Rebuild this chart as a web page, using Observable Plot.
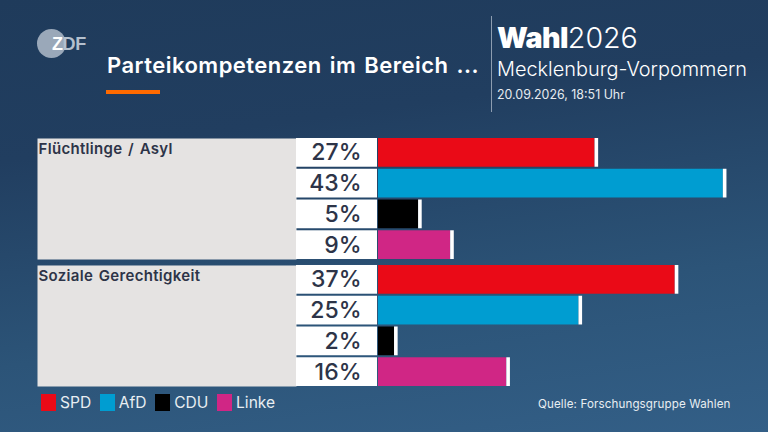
<!DOCTYPE html>
<html lang="de">
<head>
<meta charset="utf-8">
<script src="https://cdn.jsdelivr.net/npm/d3@7"></script>
<script src="https://cdn.jsdelivr.net/npm/@observablehq/plot@0.6"></script>
<style>
  html, body { margin: 0; padding: 0; }
  body {
    width: 768px; height: 432px; overflow: hidden; position: relative;
    background: linear-gradient(172deg, #1f3b5b 0%, #213e60 30%, #2c5478 68%, #335f87 100%);
    font-family: Inter, "Noto Sans", sans-serif; color: #fff;
  }
  header { height: 130px; position: relative; }
  header > * { position: absolute; white-space: nowrap; margin: 0; }
  #disc { left: 37px; top: 29px; width: 29px; height: 29px; border-radius: 50%; background: #9aa8b9; }
  #logo { left: 52px; top: 34px; font: 700 18px/20px "Liberation Sans", sans-serif; letter-spacing: -.4px; color: #b4c0ce; }
  #logo b { color: #fff; }
  h1 { left: 107px; top: 51px; font-size: 22px; line-height: 28px; font-weight: 600; word-spacing: 2px; letter-spacing: .48px; }
  #rule { left: 106px; top: 90px; width: 54px; height: 4px; background: #ff6a00; }
  #sep { left: 491px; top: 16px; width: 1px; height: 96px; background: #8d9db0; }
  #wahl { left: 497px; top: 20px; font-size: 28.6px; line-height: 36px; font-weight: 300; }
  #wahl b { font-weight: 900; letter-spacing: -.6px; }
  #land { left: 497px; top: 56px; font-size: 19.9px; line-height: 26px; font-weight: 300; }
  #date { left: 497px; top: 87px; font-size: 12.4px; line-height: 16px; font-weight: 400; color: #e6ebf0; }
  #src { position: absolute; left: 538px; top: 396px; font-size: 11.6px; line-height: 16px; color: #e8eef2; white-space: nowrap; letter-spacing: .12px; }
  #leg { position: absolute; left: 41px; top: 386px; }
  #leg, #leg * { font-family: Inter, "Noto Sans", sans-serif; }
  #leg span { margin-right: 8.6px !important; }
  #leg span > svg { margin-right: 4px !important; }
  svg { display: block; background: none !important; }
  #chart svg rect { stroke: none !important; }
</style>
</head>
<body>
<header>
  <div id="disc"></div>
  <div id="logo"><b>Z</b>DF</div>
  <h1>Parteikompetenzen im Bereich ...</h1>
  <div id="rule"></div>
  <div id="sep"></div>
  <div id="wahl"><b>Wahl</b>2026</div>
  <div id="land">Mecklenburg-Vorpommern</div>
  <div id="date">20.09.2026, 18:51 Uhr</div>
</header>
<div id="chart"></div>
<div id="leg"></div>
<div id="src">Quelle: Forschungsgruppe Wahlen</div>
<script>
const categories = ["Flüchtlinge / Asyl", "Soziale Gerechtigkeit"];
const parties = ["SPD", "AfD", "CDU", "Linke"];
const partyColors = ["#ea0a17", "#009dd1", "#000000", "#d02685"];
const asylValues = [27, 43, 5, 9];
const sozialValues = [37, 25, 2, 16];

const rows = [asylValues, sozialValues].flatMap((vals, i) =>
  vals.map((value, j) => ({category: categories[i], party: parties[j], value}))
);
const heads = categories.map((category) => ({category}));
const ink = "#2d3448";

const colorScale = {domain: parties, range: partyColors};
const plot = Plot.plot({
  width: 768, height: 262,
  marginLeft: 378, marginRight: 0, marginTop: 8, marginBottom: 6,
  style: {background: "none"},
  x: {domain: [0, 48.63], axis: null},
  y: {domain: parties, paddingInner: 0.066, paddingOuter: 0, round: false, axis: null},
  fy: {domain: categories, paddingInner: 0.047, paddingOuter: 0, round: false, axis: null},
  color: colorScale,
  marks: [
    Plot.frame({fill: "#e5e3e2", stroke: "#e5e3e2", strokeWidth: 0, strokeOpacity: 0, insetLeft: -341, insetRight: 472}),
    Plot.barX(rows, {x1: 0, x2: 0, y: "party", fy: "category", fill: "#fff", insetLeft: -82, insetRight: 1}),
    Plot.barX(rows, {x: "value", y: "party", fy: "category", fill: "party"}),
    Plot.barX(rows, {x1: "value", x2: "value", y: "party", fy: "category", fill: "#fff", insetRight: -3.6}),
    Plot.text(rows, {x: 0, y: "party", fy: "category", text: (d) => d.value + "%", textAnchor: "end", dx: -17, dy: 0, fontSize: 23, fontWeight: 500, fill: ink, fontFamily: "Inter"}),
    Plot.text(heads, {fy: "category", text: "category", frameAnchor: "top-left", dx: -340, dy: 5, fontSize: 15, fontWeight: 600, fill: ink, fontFamily: "Inter"})
  ]
});
d3.select(plot).selectAll("text")
  .filter(function () { return categories.includes(this.textContent); })
  .style("letter-spacing", "0.32px")
  .style("word-spacing", "1.5px");
document.getElementById("chart").append(plot);

const legend = Plot.legend({
  color: colorScale,
  legend: "swatches",
  swatchSize: 15, swatchWidth: 15, swatchHeight: 17
});
legend.style.fontSize = "15.6px";
legend.style.color = "#e8eef2";
legend.style.background = "none";
document.getElementById("leg").append(legend);
</script>
</body>
</html>
